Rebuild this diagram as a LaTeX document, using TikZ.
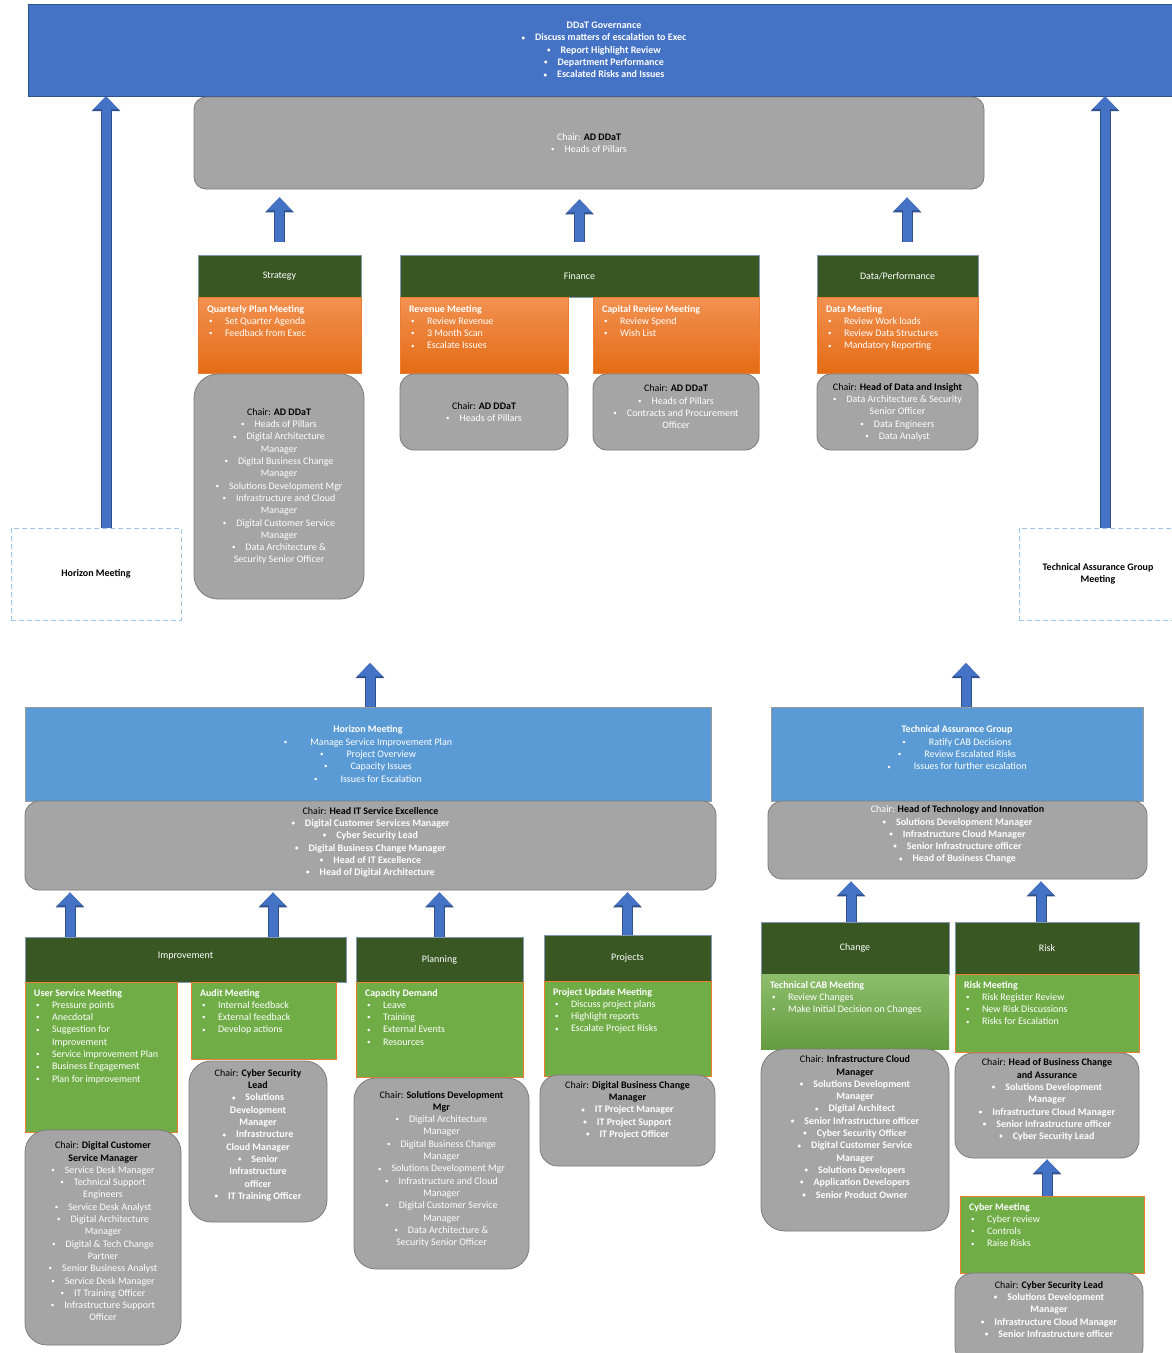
\documentclass[tikz,border=0pt]{standalone}
\usepackage{fontspec}
\usepackage{graphicx}
\setmainfont{Carlito}
\usetikzlibrary{arrows.meta}
\usetikzlibrary{positioning}

\definecolor{govblue}{HTML}{4472C4}
\definecolor{skyblue}{HTML}{5B9BD5}
\definecolor{chairgrey}{HTML}{A5A5A5}
\definecolor{chairline}{HTML}{7B7B7B}
\definecolor{hdrgreen}{HTML}{385723}
\definecolor{hdrline}{HTML}{8497B0}
\definecolor{meetgreen}{HTML}{70AD47}
\definecolor{orgline}{HTML}{ED7D31}
\definecolor{orgtop}{HTML}{F29152}
\definecolor{orgbot}{HTML}{E46C14}
\definecolor{dashblue}{HTML}{9DC3E6}
\definecolor{arrblue}{HTML}{4472C4}
\definecolor{arrdark}{HTML}{2F528F}

\newcommand{\bdot}{\raisebox{0.8pt}{\scalebox{0.7}{\textbullet}}}
\newcommand{\bul}{\bdot\hspace{10pt}}
\newcommand{\bulw}{\bdot\hspace{23pt}}
\newcommand{\itm}{\hspace{2pt}\makebox[16pt][l]{\bdot}}
\newcommand{\chairof}[1]{{\color{black}\mdseries Chair: \bfseries #1}}
\newcommand{\chairmore}[1]{{\color{black}\bfseries #1}}

\begin{document}
\begin{tikzpicture}[x=1pt, y=-1pt,
  font=\fontsize{10}{12.3}\selectfont,
  every node/.style={inner sep=0pt, align=center},
  sz/.style 2 args={minimum width=#1pt, minimum height=#2pt},
  govbox/.style={draw=arrdark, fill=govblue, text=white, font=\fontsize{10}{12.3}\selectfont\bfseries},
  bluebox/.style={draw=gray!80, fill=skyblue, text=white},
  chairbox/.style={draw=chairline, fill=chairgrey, rounded corners=14pt, text=white, line width=0.8pt},
  boldlist/.style={font=\fontsize{10}{12.3}\selectfont\bfseries},
  hdr/.style={draw=hdrline, fill=hdrgreen, text=white},
  orangebox/.style={draw=orgline, top color=orgtop, bottom color=orgbot},
  greenbox/.style={draw=orgline, fill=meetgreen},
  lst/.style={anchor=north west, align=left, text=white},
  dashbox/.style={draw=dashblue, line width=1pt, dash pattern=on 5pt off 3pt},
  uparr/.style={draw=arrblue, line width=9pt, -{Triangle[width=24pt,length=13pt]},
    preaction={draw=arrdark, line width=11pt, -{Triangle[width=28pt,length=15pt]}}}
]
\fill[white] (0,0) rectangle (1172,1353);
\useasboundingbox (0,0) rectangle (1172,1353);

% top level
\node[govbox, sz={1152}{92}] (gov) at (604,50) {DDaT Governance\\ \bul Discuss matters of escalation to Exec\\ \bul Report Highlight Review\\ \bul Department Performance\\ \bul Escalated Risks and Issues};
\node[chairbox, rounded corners=12pt, sz={790}{92}] (govchair) at (589,143) {Chair: \chairmore{AD DDaT}\\ \bul Heads of Pillars};

% pillars
\node[hdr, sz={163}{42}] (strat) at (279.5,276) {Strategy};
\node[orangebox, sz={163}{76}] (qpm) at (279.5,335) {};
\node[lst] (qpmtxt) at ([shift={(9,8)}]qpm.north west) {\textbf{Quarterly Plan Meeting}\\ \itm Set Quarter Agenda\\ \itm Feedback from Exec};
\node[chairbox, rounded corners=24pt, sz={170}{225}] (stratchair) at (279,486.5) {\chairof{AD DDaT}\\ \bul Heads of Pillars\\ \bul Digital Architecture\\ Manager\\ \bul Digital Business Change\\ Manager\\ \bul Solutions Development Mgr\\ \bul Infrastructure and Cloud\\ Manager\\ \bul Digital Customer Service\\ Manager\\ \bul Data Architecture \&\\ Security Senior Officer};

\node[hdr, sz={359}{42}] (fin) at (579.5,276) {Finance};
\node[orangebox, sz={168}{76}] (revm) at (484,335) {};
\node[lst] (revmtxt) at ([shift={(9,8)}]revm.north west) {\textbf{Revenue Meeting}\\ \itm Review Revenue\\ \itm 3 Month Scan\\ \itm Escalate Issues};
\node[orangebox, sz={166}{76}] (capm) at (676,335) {};
\node[lst] (capmtxt) at ([shift={(9,8)}]capm.north west) {\textbf{Capital Review Meeting}\\ \itm Review Spend\\ \itm Wish List};
\node[chairbox, sz={168}{76}] (revchair) at (484,412) {\chairof{AD DDaT}\\ \bul Heads of Pillars};
\node[chairbox, sz={166}{76}] (capchair) at (676,412) {\chairof{AD DDaT}\\ \bul Heads of Pillars\\ \bul Contracts and Procurement\\ Officer\\[-2pt]};

\node[hdr, sz={161}{42}] (data) at (897.5,276) {Data/Performance};
\node[orangebox, sz={161}{76}] (datam) at (897.5,335) {};
\node[lst] (datamtxt) at ([shift={(9,8)}]datam.north west) {\textbf{Data Meeting}\\ \itm Review Work loads\\ \itm Review Data Structures\\ \itm Mandatory Reporting};
\node[chairbox, sz={161}{76}] (datachair) at (897.5,412) {\chairof{Head of Data and Insight}\\ \bul Data Architecture \& Security\\ Senior Officer\\ \bul Data Engineers\\ \bul Data Analyst};

\draw[uparr, shorten <=13pt, shorten >=8pt] (strat.north) -- (strat.north |- govchair.south);
\draw[uparr, shorten <=13pt, shorten >=10pt] (fin.north) -- (fin.north |- govchair.south);
\draw[uparr, shorten <=13pt, shorten >=8pt] ([xshift=9.5pt]data.north) -- ([xshift=9.5pt]data.north |- govchair.south);

% meeting links
\node[dashbox, sz={170}{92}, font=\fontsize{10}{12.3}\selectfont\bfseries] (hzdash) at (96,574) {Horizon Meeting};
\node[dashbox, sz={158}{92}, font=\fontsize{10}{12.3}\selectfont\bfseries] (tgdash) at (1098,574) {Technical Assurance Group\\ Meeting};
\draw[uparr] ([xshift=10pt]hzdash.north) -- ([xshift=10pt]hzdash.north |- gov.south);
\draw[uparr] ([xshift=7pt]tgdash.north) -- ([xshift=7pt]tgdash.north |- gov.south);

% horizon
\coordinate (hzup) at (370,663);
\coordinate (tgup) at (966,663);
\node[bluebox, sz={686}{94}] (hzblue) at (368,754) {\textbf{Horizon Meeting}\\ \bulw Manage Service Improvement Plan\\ \bulw Project Overview\\ \bulw Capacity Issues\\ \bulw Issues for Escalation};
\node[chairbox, boldlist, sz={691}{89}] (hzchair) at (370.5,845.5) {\chairof{Head IT Service Excellence}\\ \bul Digital Customer Services Manager\\ \bul Cyber Security Lead\\ \bul Digital Business Change Manager\\ \bul Head of IT Excellence\\ \bul Head of Digital Architecture\\[-4pt]};
\draw[uparr] (hzblue.north -| hzup) -- (hzup);

% technical assurance
\node[bluebox, sz={372}{94}] (tgblue) at (957,754) {\textbf{Technical Assurance Group}\\ \bulw Ratify CAB Decisions\\ \bulw Review Escalated Risks\\ \bulw Issues for further escalation\\[0pt]};
\node[chairbox, boldlist, sz={379}{78}] (tgchair) at (957.5,840) {{\mdseries Chair:} \chairmore{Head of Technology and Innovation}\\ \bul Solutions Development Manager\\ \bul Infrastructure Cloud Manager\\ \bul Senior Infrastructure officer\\ \bul Head of Business Change\\[0pt]};
\draw[uparr] (tgblue.north -| tgup) -- (tgup);

% improvement
\node[hdr, sz={321}{45}] (impr) at (185.5,959.5) {Improvement\\[-4pt]};
\node[greenbox, sz={152}{150}] (usm) at (101,1057) {};
\node[lst] (usmtxt) at ([shift={(9,7)}]usm.north west) {\textbf{User Service Meeting}\\ \itm Pressure points\\ \itm Anecdotal\\ \itm Suggestion for\\ \hspace{18pt}Improvement\\ \itm Service improvement Plan\\ \itm Business Engagement\\ \itm Plan for improvement};
\node[greenbox, sz={145}{77}] (audm) at (263.5,1020.5) {};
\node[lst] (audmtxt) at ([shift={(9,7)}]audm.north west) {\textbf{Audit Meeting}\\ \itm Internal feedback\\ \itm External feedback\\ \itm Develop actions};
\node[chairbox, rounded corners=22pt, sz={156}{215}] (dcschair) at (103,1237.5) {\chairof{Digital Customer}\\ \chairmore{Service Manager}\\ \bul Service Desk Manager\\ \bul Technical Support\\ Engineers\\ \bul Service Desk Analyst\\ \bul Digital Architecture\\ Manager\\ \bul Digital \& Tech Change\\ Partner\\ \bul Senior Business Analyst\\ \bul Service Desk Manager\\ \bul IT Training Officer\\ \bul Infrastructure Support\\ Officer\\[0pt]};
\node[chairbox, boldlist, rounded corners=22pt, sz={138}{161}] (cslchair) at (258,1141.5) {\chairof{Cyber Security}\\ \chairmore{Lead}\\ \bul Solutions\\ Development\\ Manager\\ \bul Infrastructure\\ Cloud Manager\\ \bul Senior\\ Infrastructure\\ officer\\ \bul IT Training Officer\\[2pt]};
\draw[uparr, shorten >=2pt] ([xshift=-115.5pt]impr.north) -- ([xshift=-115.5pt]impr.north |- hzchair.south);
\draw[uparr, shorten >=2pt] ([xshift=87.5pt]impr.north) -- ([xshift=87.5pt]impr.north |- hzchair.south);

% planning
\node[hdr, sz={167}{45}] (plan) at (439.5,959.5) {Planning};
\node[greenbox, sz={167}{95}] (capd) at (439.5,1029.5) {};
\node[lst] (capdtxt) at ([shift={(9,7)}]capd.north west) {\textbf{Capacity Demand}\\ \itm Leave\\ \itm Training\\ \itm External Events\\ \itm Resources};
\node[chairbox, rounded corners=22pt, sz={175}{191}] (sdmchair) at (441.5,1173.5) {\chairof{Solutions Development}\\ \chairmore{Mgr}\\ \bul Digital Architecture\\ Manager\\ \bul Digital Business Change\\ Manager\\ \bul Solutions Development Mgr\\ \bul Infrastructure and Cloud\\ Manager\\ \bul Digital Customer Service\\ Manager\\ \bul Data Architecture \&\\ Security Senior Officer\\[-2pt]};
\draw[uparr, shorten >=2pt] (plan.north) -- (plan.north |- hzchair.south);

% projects
\node[hdr, sz={167}{46}] (proj) at (627.5,958) {Projects};
\node[greenbox, sz={167}{95}] (pum) at (627.5,1028.5) {};
\node[lst] (pumtxt) at ([shift={(9,7)}]pum.north west) {\textbf{Project Update Meeting}\\ \itm Discuss project plans\\ \itm Highlight reports\\ \itm Escalate Project Risks};
\node[chairbox, boldlist, rounded corners=18pt, sz={175}{91}] (dbcchair) at (627.5,1120.5) {\chairof{Digital Business Change}\\ \chairmore{Manager}\\ \bul IT Project Manager\\ \bul IT Project Support\\ \bul IT Project Officer\\[10pt]};
\draw[uparr, shorten >=2pt] (proj.north) -- (proj.north |- hzchair.south);

% change
\node[hdr, sz={188}{52}] (chg) at (855,948) {Change};
\node[top color=meetgreen!80!white, bottom color=meetgreen!90!black, sz={188}{75}] (cabm) at (855,1011.5) {};
\node[lst] (cabmtxt) at ([shift={(9,7)}]cabm.north west) {\textbf{Technical CAB Meeting}\\ \itm Review Changes\\ \itm Make Initial Decision on Changes};
\node[chairbox, boldlist, rounded corners=24pt, sz={188}{182}] (iccchair) at (855,1140) {\chairof{Infrastructure Cloud}\\ \chairmore{Manager}\\ \bul Solutions Development\\ Manager\\ \bul Digital Architect\\ \bul Senior Infrastructure officer\\ \bul Cyber Security Officer\\ \bul Digital Customer Service\\ Manager\\ \bul Solutions Developers\\ \bul Application Developers\\ \bul Senior Product Owner\\[14pt]};
\draw[uparr, shorten >=2pt] ([xshift=-4pt]chg.north) -- ([xshift=-4pt]chg.north |- tgchair.south);

% risk
\node[hdr, sz={184}{52}] (risk) at (1047,948) {Risk};
\node[greenbox, sz={184}{78}] (riskm) at (1047,1013) {};
\node[lst] (riskmtxt) at ([shift={(9,7)}]riskm.north west) {\textbf{Risk Meeting}\\ \itm Risk Register Review\\ \itm New Risk Discussions\\ \itm Risks for Escalation};
\node[chairbox, boldlist, rounded corners=18pt, sz={184}{105}] (hbcchair) at (1047,1105.5) {\chairof{Head of Business Change}\\ \chairmore{and Assurance}\\ \bul Solutions Development\\ Manager\\ \bul Infrastructure Cloud Manager\\ \bul Senior Infrastructure officer\\ \bul Cyber Security Lead\\[0pt]};
\draw[uparr, shorten >=2pt] ([xshift=-6pt]risk.north) -- ([xshift=-6pt]risk.north |- tgchair.south);

% cyber
\node[greenbox, sz={184}{77}] (cybm) at (1052,1234.5) {};
\node[lst] (cybmtxt) at ([shift={(9,7)}]cybm.north west) {\textbf{Cyber Meeting}\\ \itm Cyber review\\ \itm Controls\\ \itm Raise Risks};
\node[chairbox, boldlist, rounded corners=18pt, sz={188}{92}] (cybchair) at (1049,1319) {\chairof{Cyber Security Lead}\\ \bul Solutions Development\\ Manager\\ \bul Infrastructure Cloud Manager\\ \bul Senior Infrastructure officer\\[7pt]};
\draw[uparr, shorten >=1pt] ([xshift=-5pt]cybm.north) -- ([xshift=-5pt]cybm.north |- hbcchair.south);
\end{tikzpicture}
\end{document}
